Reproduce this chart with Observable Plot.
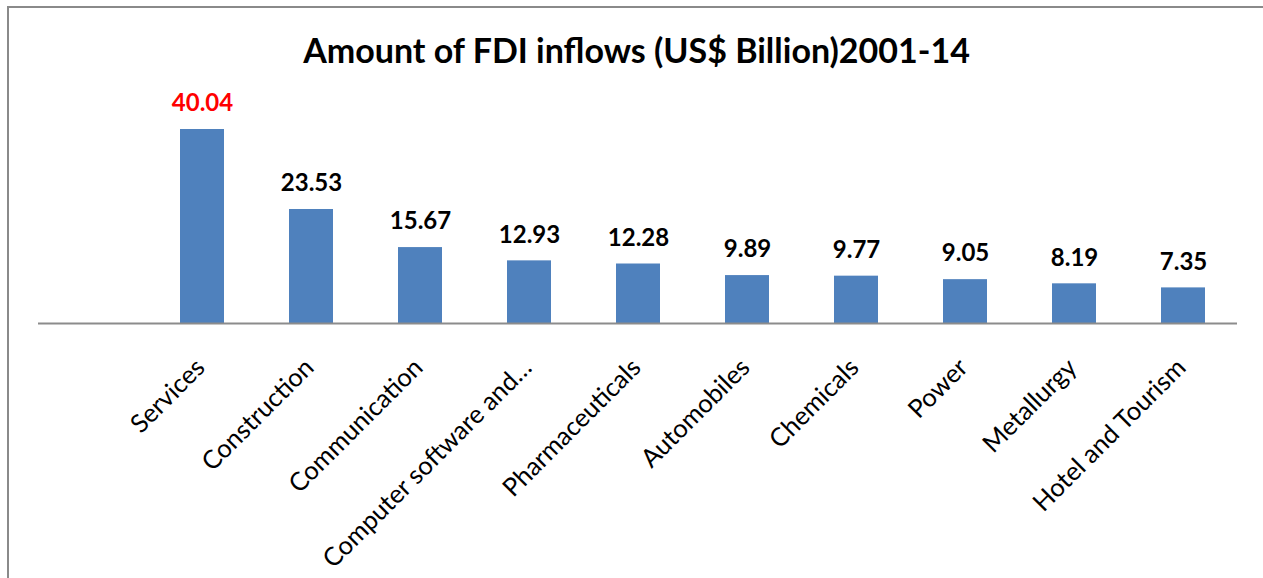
<!DOCTYPE html>
<html>
<head>
<meta charset="utf-8">
<script src="https://cdn.jsdelivr.net/npm/d3@7"></script>
<script src="https://cdn.jsdelivr.net/npm/@observablehq/plot@0.6"></script>
<style>
  body { margin: 0; background: #fff; }
  #wrap { position: relative; width: 1263px; height: 578px; overflow: hidden; background: #fff; }
  #frame { position: absolute; left: 7px; top: 6px; width: 1400px; height: 800px;
           border-left: 2px solid #8a8a8a; border-top: 2px solid #8a8a8a; }
  #title { position: absolute; left: 0; width: 1273px; top: 33px; text-align: center;
           font-family: Lato, sans-serif; font-weight: bold; font-size: 34px; line-height: 34px; color: #000; }
  #chart { position: absolute; left: 0; top: 0; }
</style>
</head>
<body>
<div id="wrap">
  <div id="frame"></div>
  <div id="title">Amount of FDI inflows (US$ Billion)2001-14</div>
  <div id="chart"></div>
</div>
<script>
const categories = ["Services", "Construction", "Communication", "Computer software and hardware",
  "Pharmaceuticals", "Automobiles", "Chemicals", "Power", "Metallurgy", "Hotel and Tourism"];
const tickLabels = ["Services", "Construction", "Communication", "Computer software and…",
  "Pharmaceuticals", "Automobiles", "Chemicals", "Power", "Metallurgy", "Hotel and Tourism"];
const values = [40.04, 23.53, 15.67, 12.93, 12.28, 9.89, 9.77, 9.05, 8.19, 7.35];
const highlighted = "Services";

const data = categories.map((c, i) => ({cat: c, label: tickLabels[i], value: values[i]}));
const domain = ["", ...categories];

const chart = Plot.plot({
  width: 1263,
  height: 578,
  marginLeft: 38,
  marginRight: 26,
  marginTop: 80,
  marginBottom: 255,
  style: {fontFamily: "Lato, sans-serif", background: "transparent", overflow: "visible"},
  x: {type: "band", domain, range: [38, 1237], paddingInner: 0.6, paddingOuter: 0.3, axis: null},
  y: {domain: [0, 50], range: [323, 323 - 50 * 4.845], axis: null},
  marks: [
    Plot.barY(data, {x: "cat", y: "value", fill: "#4f81bd"}),
    Plot.ruleY([0], {stroke: "#8c8c8c", strokeWidth: 2}),
    Plot.text(data.filter(d => d.cat !== highlighted), {x: "cat", y: "value", text: d => d.value.toFixed(2),
      fill: "#000", fontWeight: "bold", fontSize: 24, dy: -26}),
    Plot.text(data.filter(d => d.cat === highlighted), {x: "cat", y: "value", text: d => d.value.toFixed(2),
      fill: "#ff0000", fontWeight: "bold", fontSize: 24, dy: -26}),
    Plot.text(data, {x: "cat", y: () => 0, text: "label", rotate: -45, textAnchor: "end",
      fill: "#000", fontSize: 25.5, dx: -2, dy: 40})
  ]
});
document.getElementById("chart").appendChild(chart);
</script>
</body>
</html>
